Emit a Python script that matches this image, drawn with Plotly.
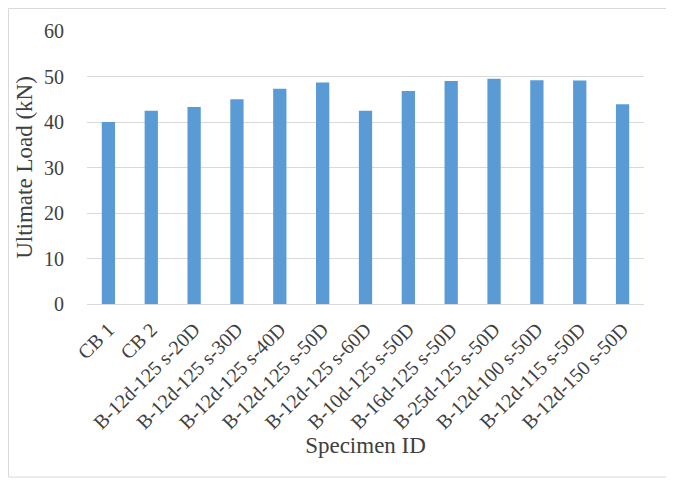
import plotly.graph_objects as go

specimens = ["CB 1", "CB 2", "B-12d-125 s-20D", "B-12d-125 s-30D", "B-12d-125 s-40D",
             "B-12d-125 s-50D", "B-12d-125 s-60D", "B-10d-125 s-50D", "B-16d-125 s-50D",
             "B-25d-125 s-50D", "B-12d-100 s-50D", "B-12d-115 s-50D", "B-12d-150 s-50D"]
ultimate_load = [40.0, 42.5, 43.3, 45.0, 47.3, 48.7, 42.5, 46.8, 49.0, 49.5, 49.2, 49.1, 43.9]
y_ticks = [0, 10, 20, 30, 40, 50, 60]

font_family = "Liberation Serif, Times New Roman, serif"
text_color = "#404040"

fig = go.Figure()
fig.add_trace(go.Bar(x=specimens, y=ultimate_load, marker=dict(color="#5b9bd5", line=dict(width=0))))

# page body has an 8px margin, so the figure is drawn 8px right/down
W, H = 666, 476
L, R, T, B = 79, 30, 23, 180
pw, ph = W - L - R, H - T - B

fig.update_layout(
    width=W, height=H,
    margin=dict(l=L, r=R, t=T, b=B, pad=0),
    paper_bgcolor="white", plot_bgcolor="white",
    bargap=0.69,
    showlegend=False,
    font=dict(family=font_family, color=text_color, size=20),
    xaxis=dict(
        tickangle=-45,
        tickfont=dict(size=20, family=font_family, color=text_color),
        showline=True, linecolor="#d9d9d9", linewidth=1,
        ticks="", showgrid=False,
        ticklabelstandoff=5,
        title=dict(text="Specimen ID", font=dict(size=23, family=font_family, color=text_color), standoff=2),
    ),
    yaxis=dict(
        range=[0, 60], tickvals=y_ticks,
        tickfont=dict(size=20, family=font_family, color=text_color),
        showgrid=True, gridcolor="#d9d9d9", gridwidth=1,
        zeroline=False, showline=False, ticks="",
        ticklabelstandoff=22,
        title=dict(text="Ultimate Load (kN)", font=dict(size=23, family=font_family, color=text_color), standoff=4),
    ),
    shapes=[dict(
        type="rect", xref="paper", yref="paper",
        x0=(0.5 - L) / pw, x1=(660 - L) / pw,
        y0=(H - B - 469) / ph, y1=(H - B - 0.5) / ph,
        line=dict(color="#d9d9d9", width=1), fillcolor="rgba(0,0,0,0)", layer="below",
    )],
)

fig.write_html("out.html")
